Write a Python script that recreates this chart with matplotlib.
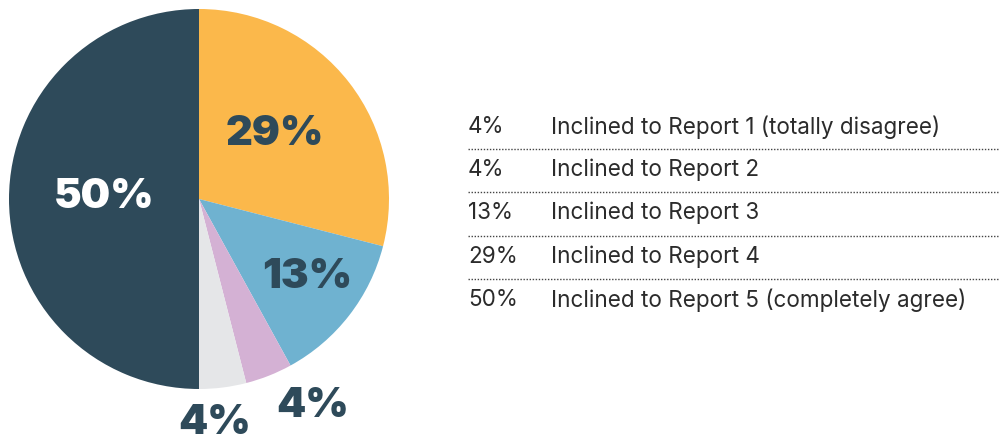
import matplotlib
matplotlib.use("Agg")
import matplotlib.pyplot as plt
from matplotlib.lines import Line2D

# pie slices, clockwise from 12 o'clock
slice_values = [29, 13, 4, 4, 50]
slice_colors = ["#FBB84B", "#6FB2D0", "#D4B1D4", "#E5E6E8", "#2E4A5A"]
slice_labels = ["29%", "13%", "4%", "4%", "50%"]

legend_pcts = ["4%", "4%", "13%", "29%", "50%"]
legend_texts = [
    "Inclined to Report 1 (totally disagree)",
    "Inclined to Report 2",
    "Inclined to Report 3",
    "Inclined to Report 4",
    "Inclined to Report 5 (completely agree)",
]

W, H = 999, 442
fig = plt.figure(figsize=(W / 100, H / 100), dpi=100)
fig.patch.set_facecolor("white")

# pie axes: centre (199, 199) px, radius 190 px
cx, cy, r = 199, 199, 190
ax = fig.add_axes([(cx - r) / W, (H - cy - r) / H, 2 * r / W, 2 * r / H])
ax.pie(slice_values, colors=slice_colors, startangle=90, counterclock=False,
       radius=1, wedgeprops=dict(linewidth=0))
ax.set_xlim(-1, 1)
ax.set_ylim(-1, 1)
ax.set_aspect("equal")
ax.axis("off")

# label positions in pie units (approx)
label_pos = [(0.40, 0.34), (0.57, -0.41), (0.60, -1.09), (0.08, -1.18), (-0.50, 0.01)]
label_col = ["#2E4A5A", "#2E4A5A", "#2E4A5A", "#2E4A5A", "white"]
for txt, (x, y), c in zip(slice_labels, label_pos, label_col):
    ax.text(x, y, txt, ha="center", va="center", fontsize=30, color=c,
            fontfamily="Inter", fontweight="black", clip_on=False)

# legend table
row_y = [127, 170, 213, 257, 300]
for pct, t, y in zip(legend_pcts, legend_texts, row_y):
    fig.text(468 / W, 1 - y / H, pct, ha="left", va="center", fontsize=16.2,
             color="#2B2B2B", fontfamily="Inter")
    fig.text(551 / W, 1 - y / H, t, ha="left", va="center", fontsize=16.2,
             color="#2B2B2B", fontfamily="Inter")
for y0, y1 in zip(row_y[:-1], row_y[1:]):
    yl = 1 - ((y0 + y1) / 2 + 0.5) / H
    fig.add_artist(Line2D([468 / W, 1.0], [yl, yl], transform=fig.transFigure,
                          color="#444444", lw=1.0, linestyle=(0, (1, 1.2))))

fig.savefig("out.png", dpi=100)
